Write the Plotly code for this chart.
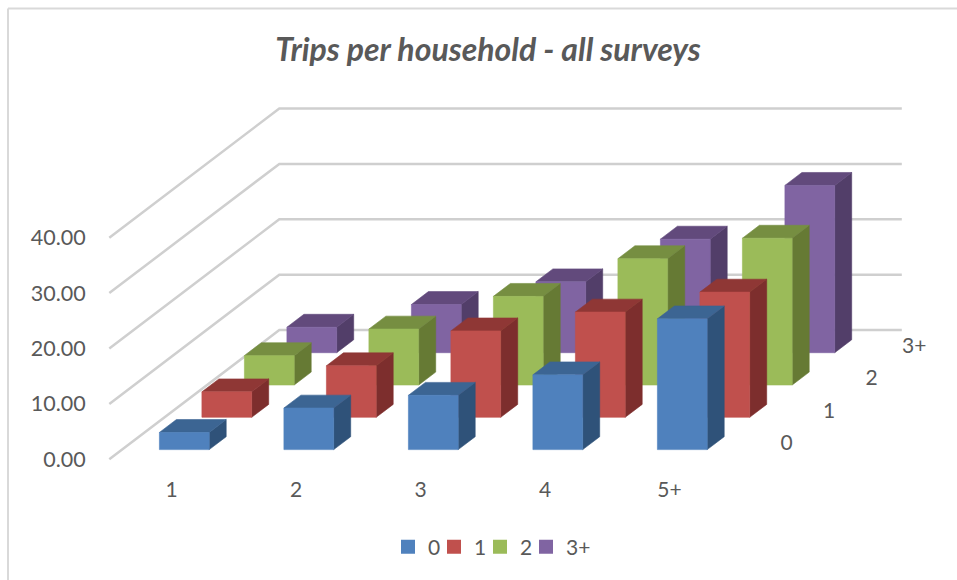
import plotly.graph_objects as go

# Trips per household, by household size (categories) and car ownership (series)
categories = ["1", "2", "3", "4", "5+"]
series_names = ["0", "1", "2", "3+"]
values_0 = [3.1, 7.5, 9.8, 13.5, 23.6]
values_1 = [4.6, 9.3, 15.6, 19.0, 22.6]
values_2 = [5.3, 10.1, 16.0, 22.8, 26.5]
values_3 = [4.6, 8.7, 12.8, 20.5, 30.2]
all_values = [values_0, values_1, values_2, values_3]
y_ticks = [0, 10, 20, 30, 40]

FRONT = ["#4F81BD", "#C0504D", "#9BBB59", "#8064A2"]
TOP = ["#3C6593", "#8F3735", "#768E41", "#624A7C"]
SIDE = ["#2F5279", "#7D2E2D", "#667A34", "#523E69"]
TEXT = "#595959"
GRID = "#CFCFCF"
FONT = "Lato"

W, H = 957, 580
LEFT, BOTTOM = 92, 105
PLOT_W, PLOT_H = W - LEFT, H - BOTTOM
CAT_PX = 124.5      # pixels per category
VAL_PX = 5.54       # pixels per value unit
ORIGIN_X, ORIGIN_Y = 109.3, 459.3   # front-left corner of the floor
DEPTH_X = 42.5 / CAT_PX             # oblique shift per series row, in category units
DEPTH_Y = 32.3 / VAL_PX             # oblique shift per series row, in value units
BAR_LO, BAR_HI = 0.3, 0.7


def project(cat, depth, value):
    """Oblique projection of (category, series row, value) onto the flat axes."""
    return cat + depth * DEPTH_X, value + depth * DEPTH_Y


def polygons(faces):
    xs, ys = [], []
    for face in faces:
        pts = [project(*p) for p in face]
        pts.append(pts[0])
        xs += [p[0] for p in pts] + [None]
        ys += [p[1] for p in pts] + [None]
    return xs, ys


def face_trace(faces, color):
    xs, ys = polygons(faces)
    return go.Scatter(x=xs, y=ys, mode="lines", fill="toself", fillcolor=color,
                      line=dict(color=color, width=0.6), showlegend=False,
                      hoverinfo="skip")


fig = go.Figure()

# Wall gridlines: diagonal along the side wall, then flat along the back wall
n_cat, n_rows = len(categories), len(series_names)
for tick in y_ticks:
    pts = [project(0, 0, tick), project(0, n_rows, tick), project(n_cat, n_rows, tick)]
    fig.add_trace(go.Scatter(x=[p[0] for p in pts], y=[p[1] for p in pts], mode="lines",
                             line=dict(color=GRID, width=2.5), showlegend=False,
                             hoverinfo="skip"))

# Columns, painted from the back row to the front row
for s in reversed(range(n_rows)):
    d0, d1 = s + BAR_LO, s + BAR_HI
    fronts, tops, sides = [], [], []
    for c, v in enumerate(all_values[s]):
        x0, x1 = c + BAR_LO, c + BAR_HI
        fronts.append([(x0, d0, 0), (x1, d0, 0), (x1, d0, v), (x0, d0, v)])
        tops.append([(x0, d0, v), (x1, d0, v), (x1, d1, v), (x0, d1, v)])
        sides.append([(x1, d0, 0), (x1, d1, 0), (x1, d1, v), (x1, d0, v)])
    fig.add_trace(face_trace(sides, SIDE[s]))
    fig.add_trace(face_trace(tops, TOP[s]))
    fig.add_trace(face_trace(fronts, FRONT[s]))

# Depth axis labels beside the right end of the floor
label_pts = [project(n_cat + 0.27, s + 0.5, -0.3) for s in range(n_rows)]
fig.add_trace(go.Scatter(x=[p[0] for p in label_pts], y=[p[1] for p in label_pts],
                         mode="text", text=series_names, textposition="middle center",
                         textfont=dict(family=FONT, size=21, color=TEXT),
                         showlegend=False, hoverinfo="skip"))

# Legend keys, plus a blank entry that leaves room for the last label
for s, name in enumerate(series_names):
    fig.add_trace(go.Scatter(x=[None], y=[None], mode="markers", name=name,
                             marker=dict(symbol="square", size=14, color=FRONT[s])))
fig.add_trace(go.Scatter(x=[None], y=[None], mode="markers", name=" ",
                         marker=dict(symbol="square", size=14, color="rgba(0,0,0,0)")))

fig.update_layout(
    width=W, height=H, margin=dict(l=LEFT, r=0, t=0, b=BOTTOM),
    paper_bgcolor="white", plot_bgcolor="white",
    title=dict(text="Trips per household - all surveys", x=488 / W, xanchor="center",
               y=1 - 50 / H, yanchor="middle",
               font=dict(family=FONT, size=32, color=TEXT, style="italic", weight="bold")),
    xaxis=dict(range=[(LEFT - ORIGIN_X) / CAT_PX, (W - ORIGIN_X) / CAT_PX],
               tickvals=[i + 0.5 for i in range(n_cat)], ticktext=categories,
               showgrid=False, zeroline=False, showline=False, ticks="",
               tickfont=dict(family=FONT, size=21, color=TEXT)),
    yaxis=dict(range=[(ORIGIN_Y - PLOT_H) / VAL_PX, ORIGIN_Y / VAL_PX],
               tickvals=y_ticks, tickformat=".2f",
               showgrid=False, zeroline=False, showline=False,
               ticks="outside", ticklen=1, tickcolor="rgba(0,0,0,0)",
               tickfont=dict(family=FONT, size=21.5, color=TEXT)),
    legend=dict(orientation="h", x=(388 - LEFT) / PLOT_W, xanchor="left",
                y=(PLOT_H - 547) / PLOT_H, yanchor="middle",
                entrywidth=1, entrywidthmode="pixels", itemclick=False, itemdoubleclick=False,
                font=dict(family=FONT, size=21, color=TEXT)),
    showlegend=True,
    shapes=[
        dict(type="line", xref="paper", yref="paper", x0=(8 - LEFT) / PLOT_W, x1=1,
             y0=(PLOT_H - 8.5) / PLOT_H, y1=(PLOT_H - 8.5) / PLOT_H,
             line=dict(color="#D9D9D9", width=2)),
        dict(type="line", xref="paper", yref="paper", x0=(8 - LEFT) / PLOT_W, x1=(8 - LEFT) / PLOT_W,
             y0=(PLOT_H - 8.5) / PLOT_H, y1=(PLOT_H - H) / PLOT_H,
             line=dict(color="#D9D9D9", width=2)),
    ],
)

fig.write_html("out.html", config=dict(displayModeBar=False))
